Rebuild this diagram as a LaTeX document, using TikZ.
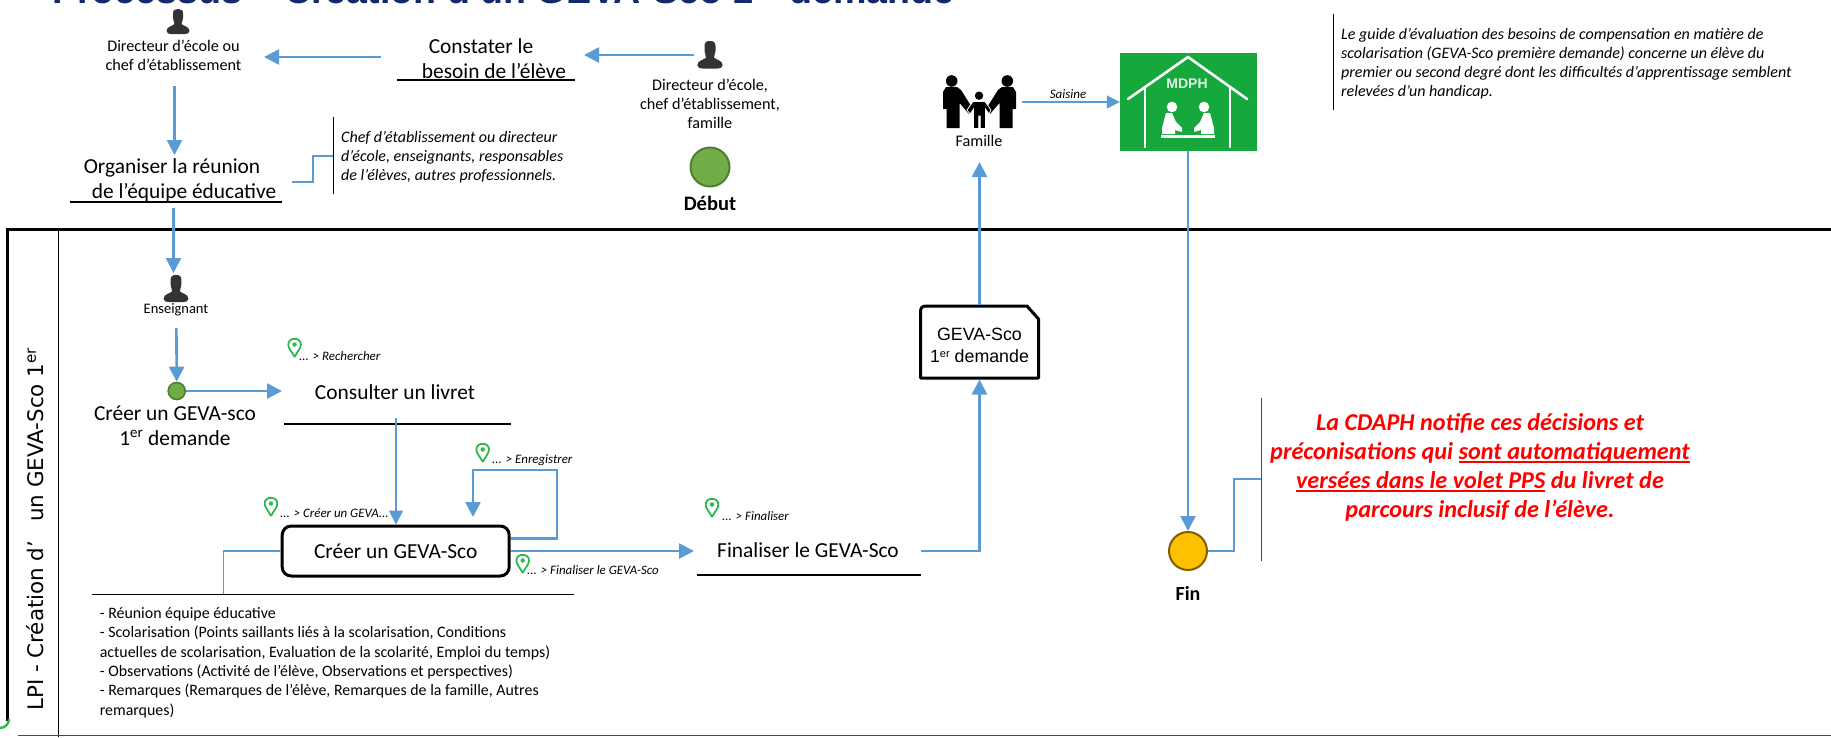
\documentclass[tikz,border=0pt]{standalone}
\usepackage{fontspec}
\setmainfont{Carlito}
\newfontfamily\lpifont{DejaVu Sans}
\newfontfamily\docfont{Liberation Sans}
\usetikzlibrary{arrows.meta}
\definecolor{flowblue}{HTML}{5B9BD5}
\definecolor{pingreen}{HTML}{2DB84D}
\definecolor{mdphgreen}{HTML}{16A83C}
\definecolor{titleblue}{HTML}{14296B}
\definecolor{inkgray}{HTML}{333333}
\definecolor{startfill}{HTML}{70AD47}
\definecolor{startline}{HTML}{507E32}
\definecolor{endfill}{HTML}{FFC000}
\definecolor{endline}{HTML}{7F6000}
\newcommand\fs[2]{\fontsize{#1}{#2}\selectfont}
\newsavebox\ulbox
\newcommand\myul[1]{\sbox\ulbox{#1}\rlap{\rule[-3.5pt]{\wd\ulbox}{1.7pt}}\usebox\ulbox}
\newcommand\personicon[3]{%
  \begin{scope}[shift={(#1,#2)},scale=#3]
    \fill[inkgray] (-5,4.5) .. controls (-5,1) and (-3,0) .. (0,0)
      .. controls (3,0) and (5,1) .. (5,4.5) -- (5,9)
      .. controls (5,12) and (3.5,13) .. (3.5,15)
      .. controls (5,17) and (11.5,17.5) .. (11.5,22)
      .. controls (11.5,24.5) and (9,25) .. (7,25) -- (-7,25)
      .. controls (-9,25) and (-11.5,24.5) .. (-11.5,22)
      .. controls (-11.5,17.5) and (-5,17) .. (-3.5,15)
      .. controls (-3.5,13) and (-5,12) .. (-5,9) -- cycle;
  \end{scope}}
\newcommand\pinicon[2]{%
  \begin{scope}[shift={(#1,#2)}]
    \draw[pingreen,line width=1.8pt,line join=round] (0,19)
      .. controls (-3,13) and (-6.3,10.5) .. (-6.3,6.5)
      .. controls (-6.3,2.8) and (-3.5,0.8) .. (0,0.8)
      .. controls (3.5,0.8) and (6.3,2.8) .. (6.3,6.5)
      .. controls (6.3,10.5) and (3,13) .. (0,19);
    \fill[pingreen] (0,6.5) circle[radius=2.2];
  \end{scope}}
\tikzset{
  x=1pt,y=-1pt,
  flow/.style={draw=flowblue,line width=2.6pt,-{Triangle[length=15pt,width=15pt]}},
  flowthin/.style={draw=flowblue,line width=1.4pt,-{Triangle[length=13pt,width=13pt]}},
  link/.style={draw=flowblue,line width=1.3pt},
  rulebk/.style={draw=black,line width=1.6pt},
  rulethin/.style={draw=black,line width=0.9pt},
  lab/.style={inner sep=0pt,align=center,font=\fs{16.2}{19}},
  big/.style={inner sep=0pt,font=\fs{21.4}{25}},
  act/.style={inner sep=0pt,font=\fs{21.4}{25}},
  note/.style={inner sep=0pt,align=left,font=\fs{16}{19}\itshape},
  pinlab/.style={inner sep=0pt,anchor=west,font=\fs{12.9}{15}\itshape},
  redtext/.style={inner sep=0pt,text=red,font=\fs{24.2}{29}\bfseries\itshape},
}
\begin{document}
\begin{tikzpicture}
\path[use as bounding box] (0,0) rectangle (1831,737);
% title
\node[anchor=base west,inner sep=0pt,text=titleblue,font=\docfont\bfseries\fs{37.6}{40}] (title) at (52,3) {Processus – Création d’un GEVA-Sco 1\textsuperscript{er} demande};
% lane
\draw[draw=black,line width=3pt] (1831,229) -- (7.5,229) -- (7.5,721);
\draw[draw=black,line width=1pt] (58.5,229) -- (58.5,737);
\draw[draw=black!70,line width=1pt] (18,735.8) -- (1831,735.8);
\node[rotate=90,anchor=west,inner sep=0pt,font=\lpifont\fs{21.4}{24}] (lane) at (35,711) {LPI - Création d’\hspace{12pt} un GEVA-Sco 1\textsuperscript{er}};
% corner pin rest
\draw[pingreen,line width=2.4pt] (0,728) arc[start angle=90,end angle=0,radius=9];
% people
\personicon{178}{9}{1}
\personicon{710}{41}{1.1}
\personicon{176}{275}{1.08}
\node[lab] (dir) at (173.5,55.5) {Directeur d’école ou\\chef d’établissement};
\node[lab] (dirfam) at (710,104) {Directeur d’école,\\chef d’établissement,\\famille};
\node[lab,font=\fs{14.5}{19}] (ens) at (176,309.5) {Enseignant};
% start
\node[circle,draw=startline,fill=startfill,minimum size=39pt,inner sep=0pt,line width=2pt] (start) at (710,167) {};
\node[inner sep=0pt,font=\fs{20.5}{22}\bfseries] (debut) at (710,203) {Début};
% top activities
\node[big] (cons1) at (481,46) {Constater le};
\node[big] (cons2) at (494,71) {besoin de l’élève};
\coordinate (consL) at (397,80); \coordinate (consR) at (575,80);
\draw[rulebk] (consL) -- (consR);
\node[big] (org1) at (172,168) {Organiser la réunion};
\node[big] (org2) at (184,193) {de l’équipe éducative};
\coordinate (orgL) at (70,202); \coordinate (orgR) at (282,202);
\draw[rulebk] (orgL) -- (orgR);
\coordinate (a1s) at (694,55); \coordinate (a1e) at (584,55);
\draw[flow] (a1s) -- (a1e);
\coordinate (a2s) at (381,57); \coordinate (a2e) at (264,57);
\draw[flow] (a2s) -- (a2e);
\coordinate (a3s) at (174.5,86); \coordinate (a3e) at (174.5,155);
\draw[flow] (a3s) -- (a3e);
\coordinate (a4s) at (173.5,208); \coordinate (a4e) at (173.5,273);
\draw[flow] (a4s) -- (a4e);
% chef note
\coordinate (chefT) at (333.5,117); \coordinate (chefB) at (333.5,194);
\draw[rulethin] (chefT) -- (chefB);
\node[note,anchor=west] (chef) at (341,157) {Chef d’établissement ou directeur\\d’école, enseignants, responsables\\de l’élèves, autres professionnels.};
\coordinate (chefA) at (292,182); \coordinate (chefC) at (333,156);
\draw[link] (chefA) -- (313,182) -- (313,156) -- (chefC);
% create start
\coordinate (a5s) at (176.4,328);
\node[circle,draw=startline,fill=startfill,minimum size=17pt,inner sep=0pt,line width=1.6pt] (cstart) at (176.7,391) {};
\draw[flow] (a5s) -- (cstart.north);
\node[big,align=center] (creer) at (175,425.5) {Créer un GEVA-sco\\1\textsuperscript{er} demande};
\coordinate (consultIn) at (282,391);
\draw[flow] (cstart.east) -- (consultIn);
\node[act] (consult) at (395,392) {Consulter un livret};
\coordinate (consL2) at (284,424); \coordinate (consR2) at (511,424);
\draw[rulebk] (consL2) -- (consR2);
\pinicon{294.6}{338}
\node[pinlab] (pr) at (299,356) {... > Rechercher};
% create box
\node[draw=black,line width=3pt,rounded corners=9pt,minimum width=227pt,minimum height=50pt,inner sep=0pt,font=\fs{21.4}{25}] (box) at (395.7,551) {Créer un GEVA-Sco};
\coordinate (a6s) at (396,418);
\draw[flowthin,line width=1.8pt,-{Triangle[length=14pt,width=14pt]}] (a6s) -- (box.north -| a6s);
\pinicon{271}{497}
\node[pinlab] (pc) at (280,513) {... > Créer un GEVA...};
\pinicon{482.7}{443}
\node[pinlab] (pe) at (492,460) {... > Enregistrer};
\pinicon{522.7}{554}
\node[pinlab] (pf) at (527,570) {... > Finaliser le GEVA-Sco};
\coordinate (loopS) at (511,538.7); \coordinate (loopE) at (473,517);
\draw[flow] (loopS) -- (557,538.7) -- (557,470) -- (473,470) -- (loopE);
% doc underline and list
\coordinate (listL) at (92,594); \coordinate (listR) at (574,594); \coordinate (listC) at (223.6,594);
\draw[rulethin] (listL) -- (listR);
\draw[link] (box.west) -- (223.6,551) -- (listC);
\node[lab,align=left,anchor=north west,font=\fs{15.9}{19.4}] (list) at (99.6,607) {- Réunion équipe éducative\\- Scolarisation (Points saillants liés à la scolarisation, Conditions\\actuelles de scolarisation, Evaluation de la scolarité, Emploi du temps)\\- Observations (Activité de l’élève, Observations et perspectives)\\- Remarques (Remarques de l’élève, Remarques de la famille, Autres\\remarques)};
% finaliser
\coordinate (finIn) at (694,551);
\draw[flow] (box.east) -- (finIn);
\node[act] (fin) at (808,550) {Finaliser le GEVA-Sco};
\coordinate (finL) at (697,575); \coordinate (finR) at (921,575);
\draw[rulebk] (finL) -- (finR);
\pinicon{712}{498}
\node[pinlab] (pfi) at (722,516) {... > Finaliser};
% document
\draw[draw=black,line width=3pt,line join=round] (1027,306) -- (926,306) .. controls (922,306) and (920.5,308) .. (920.5,312) -- (920.5,378) -- (1038.5,378) -- (1038.5,319) -- cycle;
\node[inner sep=0pt,align=center,font=\docfont\fs{17.8}{22}] (doc) at (979.5,345) {GEVA-Sco\\1{\fs{11}{11}\raisebox{5pt}{er}} demande};
\coordinate (docB) at (979.5,379.5); \coordinate (docT) at (979.5,304.5);
\coordinate (finOut) at (921,551);
\draw[flow] (finOut) -- (979.5,551) -- (docB);
\coordinate (famIn) at (979.5,162);
\draw[flow] (docT) -- (famIn);
% family
\fill[black] (951.7,81) circle[radius=5.8] (1007.3,81) circle[radius=5.8] (979,95.7) circle[radius=4.2];
\fill[black,line join=round] (946,87) -- (957,87) -- (961,90) -- (973,109) -- (969,114) -- (959.5,103) -- (959.5,128) -- (946.5,128) -- (946.5,109) -- (943,109) -- (943,92) -- cycle;
\fill[black,line join=round] (1013,87) -- (1002,87) -- (998,90) -- (986,109) -- (990,114) -- (999.5,103) -- (999.5,128) -- (1012.5,128) -- (1012.5,109) -- (1016,109) -- (1016,92) -- cycle;
\draw[white,fill=black,line width=0.8pt] (973,101.5) -- (985,101.5) -- (991,110) -- (989,114) -- (985.5,109) -- (985.5,128.4) -- (980.3,128.4) -- (980.3,116) -- (978.7,116) -- (978.7,128.4) -- (973.5,128.4) -- (973.5,109) -- (970,114) -- (967,110) -- cycle;
\node[lab] (fam) at (979,141) {Famille};
% mdph
\node[fill=mdphgreen,minimum width=137pt,minimum height=98pt,inner sep=0pt] (mdph) at (1188.5,102) {};
\begin{scope}[white,line cap=round,line join=round]
  \draw[line width=2.6pt] (1128,99) -- (1188,57) -- (1247,99);
  \draw[line width=2.6pt] (1145,88) -- (1145,147) (1230,88) -- (1230,147);
  \fill (1172,107) circle[radius=5.3] (1204,107) circle[radius=5.3];
  \fill (1166,113) -- (1172,113) -- (1176,122) -- (1182,128) -- (1182,132) -- (1175,130) -- (1175,134) -- (1162,134) -- (1162,128) -- cycle;
  \fill (1210,113) -- (1204,113) -- (1200,122) -- (1194,128) -- (1194,132) -- (1201,130) -- (1201,134) -- (1214,134) -- (1214,128) -- cycle;
  \fill (1161,134.5) rectangle (1215,138);
\end{scope}
\node[inner sep=0pt,text=white!85!mdphgreen,font=\docfont\bfseries\fs{14}{16}] (mdphT) at (1187,84) {MDPH};
\coordinate (saiS) at (1022,102);
\draw[flowthin] (saiS) -- (saiS -| mdph.west);
\node[inner sep=0pt,font=\fs{13}{15}\itshape] (sai) at (1068,94) {Saisine};
% end
\node[circle,draw=endline,fill=endfill,minimum size=38pt,inner sep=0pt,line width=2pt] (end) at (1188,551) {};
\draw[flow,line width=2pt] (mdph.south -| end) -- (end.north);
\node[inner sep=0pt,font=\fs{20}{21}\bfseries] (finT) at (1188,593) {Fin};
\coordinate (redT) at (1261,398); \coordinate (redB) at (1261,561); \coordinate (redC) at (1261,479);
\draw[draw=black!70,line width=0.9pt] (redT) -- (redB);
\draw[link] (end.east) -- (1234,551) -- (1234,479) -- (redC);
\node[redtext,align=center] (redtxt) at (1480,467) {La CDAPH notifie ces décisions et\\préconisations qui \myul{sont automatiquement}\\\myul{versées dans le volet PPS} du livret de\\parcours inclusif de l’élève.};
% top note
\coordinate (guideT) at (1333.5,14); \coordinate (guideB) at (1333.5,110);
\draw[rulethin] (guideT) -- (guideB);
\node[note,anchor=west] (guide) at (1341,64) {Le guide d’évaluation des besoins de compensation en matière de\\scolarisation (GEVA-Sco première demande) concerne un élève du\\premier ou second degré dont les difficultés d’apprentissage semblent\\relevées d’un handicap.};
\end{tikzpicture}
\end{document}
